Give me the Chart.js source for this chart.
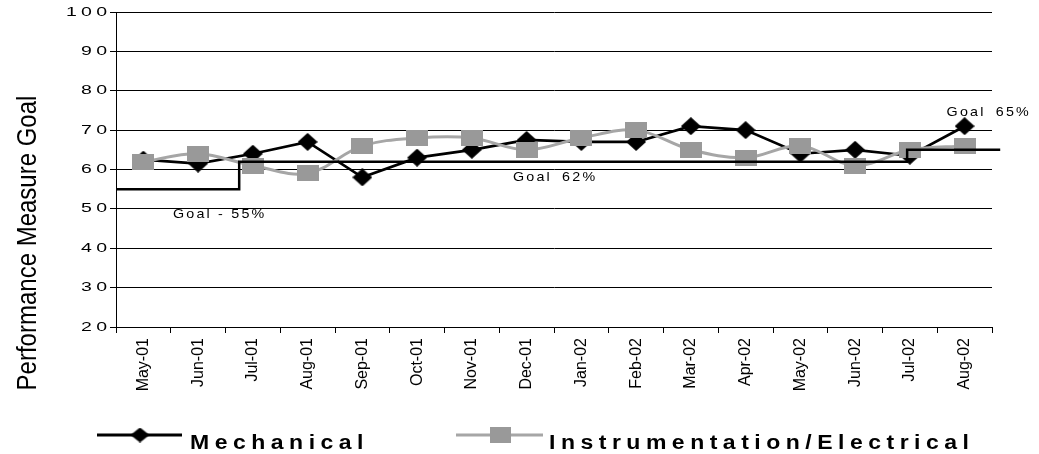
<!DOCTYPE html>
<html>
<head>
<meta charset="utf-8">
<script src="https://cdn.jsdelivr.net/npm/chart.js@4/dist/chart.umd.min.js"></script>
<style>
  html, body { margin: 0; padding: 0; background: #fff; }
  #wrap { width: 1039px; height: 454px; position: relative; }
</style>
</head>
<body>
<div id="wrap"><canvas id="chart"></canvas></div>
<script>
// ---- data ----
const months = ['May-01', 'Jun-01', 'Jul-01', 'Aug-01', 'Sep-01', 'Oct-01', 'Nov-01', 'Dec-01',
                'Jan-02', 'Feb-02', 'Mar-02', 'Apr-02', 'May-02', 'Jun-02', 'Jul-02', 'Aug-02'];
const mechanical = [62.5, 61.5, 64, 67, 58, 63, 65, 67.5, 67, 67, 71, 70, 64, 65, 63.5, 71];
const instrElectrical = [62, 64, 61, 59, 66, 68, 68, 65, 68, 70, 65, 63, 66, 61, 65, 66];
const yTicks = [20, 30, 40, 50, 60, 70, 80, 90, 100];
const goalValues = [55, 62, 65];
const goalTexts = ['Goal - 55%', 'Goal 62%', 'Goal 65%'];
const goalBreaks = [1.75, 13.95];      // month positions where the goal steps up
const goalSpan = [-0.5, 15.65];        // first and last month position of the goal line
const seriesNames = ['Mechanical', 'Instrumentation/Electrical'];
const axisTitle = 'Performance Measure Goal';

// ---- styles ----
const FONT = '"Liberation Sans", Arial, Helvetica, sans-serif';
const MECH_COLOR = '#000000';
const IE_LINE = '#a6a6a6';
const IE_MARK = '#999999';
const goalLabelAnchors = [ { x: 0.54, y: 48.5, gap: 0 }, { x: 6.75, y: 58, gap: 4 }, { x: 14.67, y: 74.4, gap: 4 } ];

// goal step line built from the goal arrays
const goalPoints = [];
goalValues.forEach((v, i) => {
  const from = i === 0 ? goalSpan[0] : goalBreaks[i - 1];
  const to = i === goalValues.length - 1 ? goalSpan[1] : goalBreaks[i];
  goalPoints.push({ x: from, y: v }, { x: to, y: v });
});

// marker images
function makeDiamond(w, h, color) {
  const c = document.createElement('canvas');
  c.width = w; c.height = h;
  const g = c.getContext('2d');
  g.fillStyle = color;
  g.beginPath();
  g.moveTo(w / 2, 0); g.lineTo(w, h / 2); g.lineTo(w / 2, h); g.lineTo(0, h / 2);
  g.closePath(); g.fill();
  return c;
}
function makeRect(w, h, color) {
  const c = document.createElement('canvas');
  c.width = w; c.height = h;
  const g = c.getContext('2d');
  g.fillStyle = color;
  g.fillRect(0, 0, w, h);
  return c;
}
const diamond = makeDiamond(20, 18, MECH_COLOR);
const square = makeRect(22, 16, IE_MARK);
const legendDiamond = makeDiamond(19, 15, MECH_COLOR);
const legendSquare = makeRect(21, 16, IE_MARK);

// draws text one glyph at a time with extra tracking and horizontal scale
function drawTracked(ctx, text, x, y, o) {
  ctx.save();
  ctx.font = o.font;
  ctx.fillStyle = o.color || '#000';
  ctx.textBaseline = o.baseline || 'alphabetic';
  ctx.textAlign = 'left';
  const sx = o.scaleX || 1;
  const sp = o.spacing || 0;
  const gap = o.gap || 0;
  const chars = Array.from(text);
  const widths = chars.map(ch => ctx.measureText(ch).width * sx);
  let total = widths.reduce((a, b) => a + b, 0) + sp * (chars.length - 1);
  chars.forEach(ch => { if (ch === ' ') total += gap; });
  let cx = x;
  if (o.align === 'right') cx = x - total;
  else if (o.align === 'center') cx = x - total / 2;
  chars.forEach((ch, i) => {
    ctx.save();
    ctx.translate(cx, y);
    ctx.scale(sx, 1);
    ctx.fillText(ch, 0, 0);
    ctx.restore();
    cx += widths[i] + sp + (ch === ' ' ? gap : 0);
  });
  ctx.restore();
}

const textPlugin = {
  id: 'chartText',
  afterDraw(chart) {
    const ctx = chart.ctx;
    const ys = chart.scales.y;
    const xg = chart.scales.xg;
    const area = chart.chartArea;

    // value axis labels
    yTicks.forEach(v => {
      drawTracked(ctx, String(v), area.left - 9, ys.getPixelForValue(v), {
        font: '13px ' + FONT, spacing: 4.2, scaleX: 1.5, align: 'right', baseline: 'middle'
      });
    });

    // value axis title
    ctx.save();
    ctx.translate(36, 243);
    ctx.rotate(-Math.PI / 2);
    ctx.scale(1, 1.15);
    ctx.font = '24px ' + FONT;
    ctx.fillStyle = '#000';
    ctx.textAlign = 'center';
    ctx.textBaseline = 'alphabetic';
    ctx.fillText(axisTitle, 0, 0);
    ctx.restore();

    // goal labels
    goalTexts.forEach((t, i) => {
      const a = goalLabelAnchors[i];
      drawTracked(ctx, t, xg.getPixelForValue(a.x), ys.getPixelForValue(a.y), {
        font: '13px ' + FONT, spacing: 2.2, scaleX: 1.1, baseline: 'middle', gap: a.gap
      });
    });

    // legend
    const ly = 435;
    const entries = [
      { x0: 97, x1: 182, mx: 140, color: MECH_COLOR, width: 3, img: legendDiamond, tx: 190, text: seriesNames[0] },
      { x0: 456, x1: 543, mx: 500, color: IE_LINE, width: 3, img: legendSquare, tx: 549, text: seriesNames[1] }
    ];
    entries.forEach(e => {
      ctx.save();
      ctx.strokeStyle = e.color;
      ctx.lineWidth = e.width;
      ctx.beginPath();
      ctx.moveTo(e.x0, ly); ctx.lineTo(e.x1, ly);
      ctx.stroke();
      ctx.drawImage(e.img, e.mx - e.img.width / 2, ly - e.img.height / 2);
      ctx.restore();
      drawTracked(ctx, e.text, e.tx, 449, {
        font: 'bold 20px ' + FONT, spacing: 5.5, scaleX: 1.15
      });
    });
  }
};

new Chart(document.getElementById('chart'), {
  type: 'line',
  data: {
    labels: months,
    datasets: [
      {
        label: seriesNames[0],
        data: mechanical,
        borderColor: MECH_COLOR,
        backgroundColor: MECH_COLOR,
        borderWidth: 2.7,
        tension: 0,
        pointStyle: diamond,
        pointRadius: 9,
        order: 3
      },
      {
        label: seriesNames[1],
        data: instrElectrical,
        borderColor: IE_LINE,
        backgroundColor: IE_MARK,
        borderWidth: 3,
        tension: 0.35,
        pointStyle: square,
        pointRadius: 9,
        order: 2
      },
      {
        label: 'Goal',
        data: goalPoints,
        xAxisID: 'xg',
        borderColor: '#000',
        borderWidth: 2.5,
        pointRadius: 0,
        tension: 0,
        clip: false,
        order: 1
      }
    ]
  },
  options: {
    responsive: true,
    maintainAspectRatio: false,
    animation: false,
    events: [],
    layout: { padding: { left: 0, top: 11, right: 47, bottom: 60 } },
    plugins: { legend: { display: false }, tooltip: { enabled: false } },
    scales: {
      x: {
        type: 'category',
        offset: true,
        afterFit(scale) { scale.height = 67; },
        grid: { offset: true, drawOnChartArea: false, drawTicks: true, tickLength: 6, color: '#000', lineWidth: 1 },
        border: { color: '#000', width: 1 },
        ticks: {
          autoSkip: false, minRotation: 90, maxRotation: 90, padding: 5,
          color: '#000', font: { family: FONT, size: 16 }
        }
      },
      xg: { type: 'linear', display: false, min: -0.5, max: 15.5 },
      y: {
        min: 20, max: 100,
        afterFit(scale) { scale.width = 116; },
        ticks: { stepSize: 10, display: false },
        grid: { color: '#000', lineWidth: 1, tickLength: 6 },
        border: { color: '#000', width: 1 }
      }
    }
  },
  plugins: [textPlugin]
});
</script>
</body>
</html>
